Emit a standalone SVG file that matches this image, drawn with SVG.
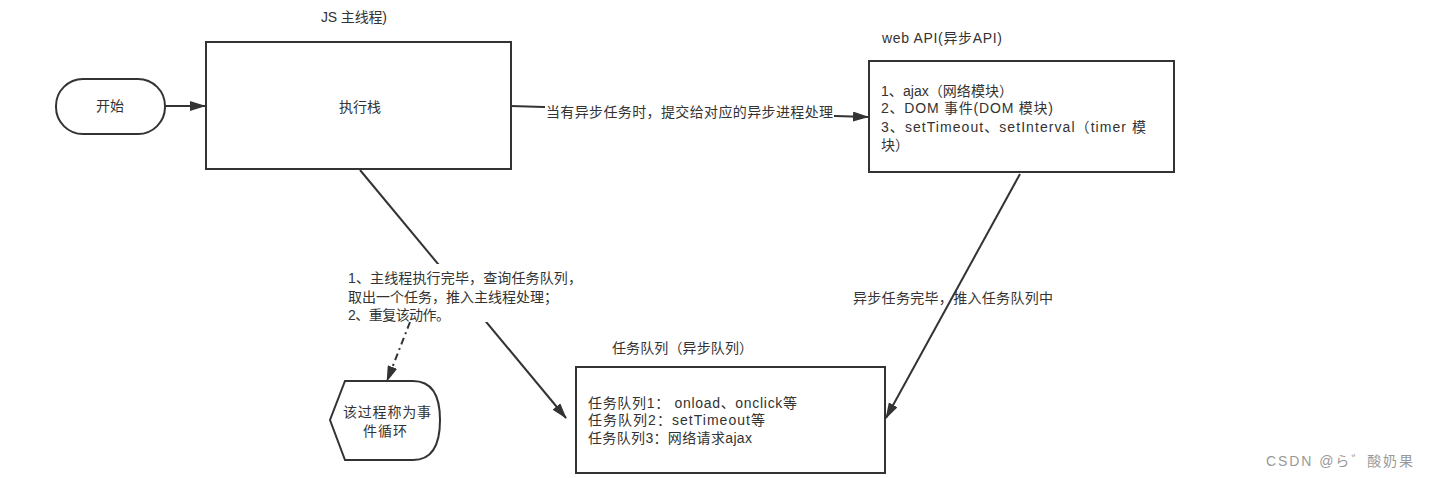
<svg xmlns="http://www.w3.org/2000/svg" width="1429" height="478" viewBox="0 0 1429 478">
<style>
.box{fill:#fff;stroke:#333;stroke-width:2}
.t{font-family:"Liberation Sans","Noto Sans CJK SC",sans-serif;font-size:14px;fill:#333}
.c{stroke:#333;stroke-width:2;fill:none}
.wm{font-family:"Liberation Sans","Noto Sans CJK SC",sans-serif;font-size:14px;fill:#999}
</style>
<defs>
<marker id="ah" viewBox="0 0 16 10" refX="15" refY="5" markerWidth="8" markerHeight="5" orient="auto" markerUnits="strokeWidth">
<path d="M0,0 L16,5 L0,10 Z" fill="#333"/>
</marker>
</defs>
<rect width="1429" height="478" fill="#fff"/>
<g id="connectors">
<line class="c" x1="165" y1="106" x2="205" y2="106" marker-end="url(#ah)"/>
<line class="c" x1="511" y1="106" x2="868" y2="117" marker-end="url(#ah)"/>
<line class="c" x1="360" y1="170" x2="566" y2="418" marker-end="url(#ah)"/>
<line class="c" x1="1020" y1="174" x2="886" y2="418" marker-end="url(#ah)"/>
<line class="c" x1="410" y1="322" x2="387" y2="381" stroke-dasharray="7,4,2,4" marker-end="url(#ah)"/>
<rect x="545" y="100" width="289" height="20" fill="#fff"/>
<text class="t" x="546" y="117" textLength="287">当有异步任务时，提交给对应的异步进程处理</text>
<rect x="345" y="264" width="265" height="58" fill="#fff"/>
<text class="t" x="348" y="283" textLength="234">1、主线程执行完毕，查询任务队列，</text>
<text class="t" x="348" y="302" textLength="210">取出一个任务，推入主线程处理；</text>
<text class="t" x="348" y="320" textLength="102">2、重复该动作。</text>
<text class="t" x="853" y="303" textLength="200">异步任务完毕，推入任务队列中</text>
</g>
<g id="start">
<rect class="box" x="56" y="79" width="109" height="55" rx="27" ry="27"/>
<text class="t" x="110" y="111" text-anchor="middle">开始</text>
</g>
<g id="exec">
<text class="t" x="321" y="22" textLength="66">JS 主线程)</text>
<rect class="box" x="206" y="42" width="305" height="127"/>
<text class="t" x="360" y="112" text-anchor="middle">执行栈</text>
</g>
<g id="webapi">
<text class="t" x="882" y="43" textLength="120">web API(异步API)</text>
<rect class="box" x="869" y="61" width="305" height="111"/>
<text class="t" x="881" y="96" textLength="132">1、ajax（网络模块）</text>
<text class="t" x="881" y="113" textLength="172">2、DOM 事件(DOM 模块)</text>
<text class="t" x="881" y="132" textLength="265">3、setTimeout、setInterval（timer 模</text>
<text class="t" x="881" y="150">块）</text>
</g>
<g id="queue">
<text class="t" x="612" y="353" textLength="141">任务队列（异步队列）</text>
<rect class="box" x="576" y="367" width="309" height="106"/>
<text class="t" x="588" y="408" textLength="209">任务队列1： onload、onclick等</text>
<text class="t" x="588" y="425" textLength="177">任务队列2：setTimeout等</text>
<text class="t" x="588" y="443" textLength="164">任务队列3：网络请求ajax</text>
</g>
<g id="loop">
<path class="box" d="M345,381 L413,381 Q440,381 440,420 Q440,460 413,460 L345,460 L330,420 Z"/>
<text class="t" x="343" y="417" textLength="88">该过程称为事</text>
<text class="t" x="363" y="436" textLength="44">件循环</text>
</g>
<text class="wm" x="1266" y="466" textLength="147">CSDN @ら゛酸奶果</text>
</svg>
